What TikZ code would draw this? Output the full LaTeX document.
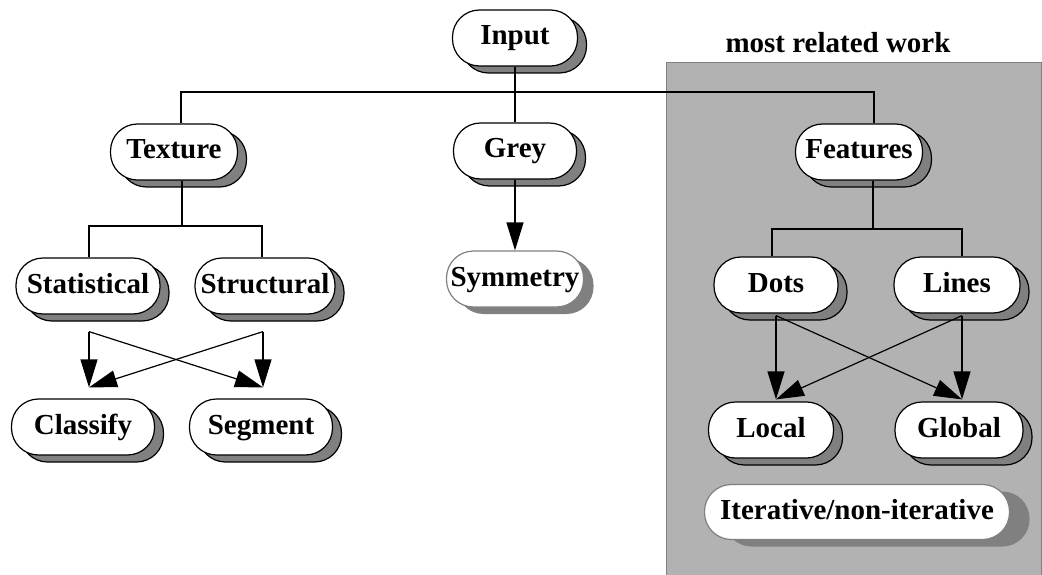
\documentclass[tikz,border=0pt]{standalone}
\usepackage{fontspec}
\setmainfont{Liberation Serif}
\usetikzlibrary{arrows.meta,shadows}
\definecolor{panel}{gray}{0.70}
\definecolor{shade}{gray}{0.50}
\tikzset{every picture/.style={
  >={Triangle[length=28pt,width=17pt]}   % Big filled heads.
  }
}

\begin{document}
\begin{tikzpicture}[x=1pt,y=-1pt,line width=1.2pt,
    stadium/.style={
      fill=white,rounded corners=27pt,
      minimum width=125pt,minimum height=56pt,inner xsep=4pt,
      text height=20pt,text depth=6pt,
      font=\fontsize{29pt}{33pt}\selectfont\bfseries
    },
    pill/.style={
      stadium,draw,
      general shadow={shadow xshift=9pt,shadow yshift=-7pt,fill=shade,draw=black}
    },
    pale/.style={
      stadium,draw=shade,
      general shadow={shadow xshift=#1,shadow yshift=-7pt,fill=shade}
    }]

    \useasboundingbox (0,0) rectangle (1042,575);

    % The shaded panel and its title.
    \filldraw[panel,draw=shade,line width=0.8pt] (666,62) rectangle (1041,576);
    \node[font=\fontsize{29pt}{33pt}\selectfont\bfseries] (title) at (838,43)
      {most related work};

    % Top of the tree.
    \node[pill] (input) at (515,38) {Input};
    \node[pill,minimum width=127pt] (texture) at (174,152) {Texture};
    \node[pill,minimum width=123pt] (grey) at (515,151) {Grey};
    \node[pill,minimum width=127pt] (features) at (859,152) {Features};

    % Texture branch.
    \node[pill,minimum width=144pt] (statistical) at (88,286) {Statistical};
    \node[pill,minimum width=140pt] (structural) at (265,286) {Structural};
    \node[pill,minimum width=143pt] (classify) at (83,427) {Classify};
    \node[pill,minimum width=143pt] (segment) at (261,427) {Segment};

    % Grey branch.
    \node[pale=10pt,minimum width=137pt] (symmetry) at (515,279) {Symmetry};

    % Features branch.
    \node[pill,minimum width=124pt] (dots) at (776,285) {Dots};
    \node[pill,minimum width=126pt] (lines) at (957,285) {Lines};
    \node[pill] (local) at (771,430) {Local};
    \node[pill,minimum width=128pt] (global) at (959,430) {Global};
    \node[pale=20pt,minimum width=305pt,minimum height=55pt] (iter) at (857,512)
      {Iterative/non-iterative};

    % Tree lines.
    \coordinate (bus) at (515,92);
    \coordinate (busT) at (182,226);
    \coordinate (busF) at (873,229);

    \draw (input) -- (grey);
    \draw ([xshift=7pt]texture.north) |- (bus) -| ([xshift=15pt]features.north);

    \draw ([xshift=8pt]texture.south) -- (busT);
    \draw ([xshift=1pt]statistical.north) |- (busT)
      -| ([xshift=-3pt]structural.north);

    \draw ([xshift=14pt]features.south) -- (busF);
    \draw ([xshift=-4pt]dots.north) |- (busF) -| ([xshift=5pt]lines.north);

    % Arrows.
    \draw[->] (grey.south) -- (symmetry.north);

    \draw[->] ([xshift=1pt,yshift=-17pt]statistical.south) --
      ([xshift=6pt,yshift=11pt]classify.north);
    \draw[->] ([xshift=1pt,yshift=-17pt]statistical.south) --
      ([xshift=2pt,yshift=11pt]segment.north);
    \draw[->] ([xshift=-2pt,yshift=-17pt]structural.south) --
      ([xshift=6pt,yshift=11pt]classify.north);
    \draw[->] ([xshift=-2pt,yshift=-17pt]structural.south) --
      ([xshift=2pt,yshift=11pt]segment.north);

    \draw[->] ([yshift=-2pt]dots.south) --
      ([xshift=5pt,yshift=2pt]local.north);
    \draw[->] ([yshift=-2pt]dots.south) --
      ([xshift=3pt,yshift=2pt]global.north);
    \draw[->] ([xshift=5pt,yshift=-2pt]lines.south) --
      ([xshift=5pt,yshift=2pt]local.north);
    \draw[->] ([xshift=5pt,yshift=-2pt]lines.south) --
      ([xshift=3pt,yshift=2pt]global.north);
  \end{tikzpicture}
\end{document}
